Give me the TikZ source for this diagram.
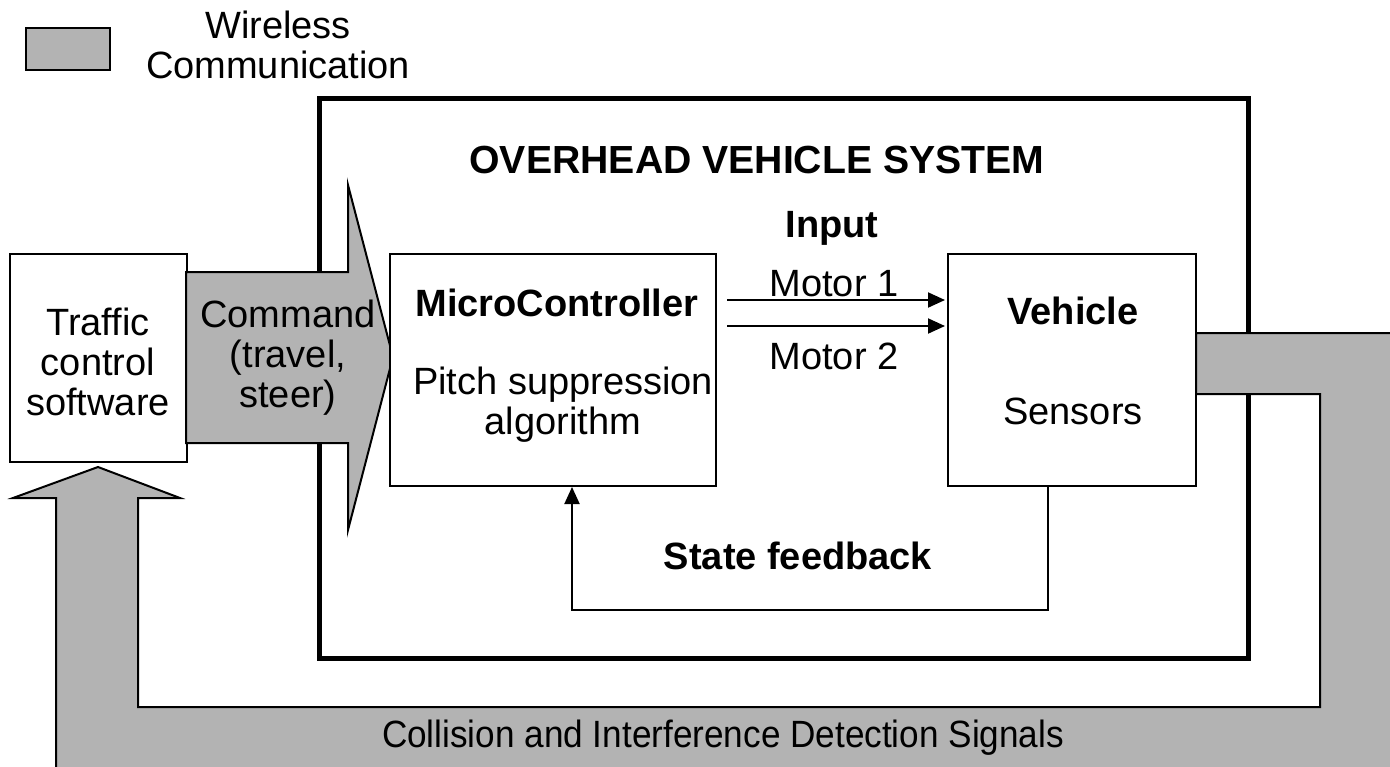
\documentclass[tikz,border=0pt]{standalone}
\usepackage{fontspec}
\setmainfont{Liberation Sans}
\newfontfamily\condensedsans[FakeStretch=0.925]{Liberation Sans}
\usetikzlibrary{arrows.meta,calc}
\definecolor{bandgray}{RGB}{179,179,179}
\begin{document}
\begin{tikzpicture}[x=0.5pt,y=-0.5pt,
  every node/.style={font=\fontsize{19}{20}\selectfont, inner sep=0pt, align=center},
  txt/.style={},
  hd/.style={font=\fontsize{19}{20}\selectfont\bfseries},
  box/.style={draw, line width=1pt, fill=white},
  frame/.style={draw, line width=2.5pt},
  wire/.style={line width=1pt},
  tip/.style={-{Triangle[length=8.5pt,width=7.5pt]}}
]
\useasboundingbox (0,0) rectangle (1390,766);

% legend
\node[draw, line width=1pt, fill=bandgray, minimum width=42pt, minimum height=21pt] (legend) at (68,49) {};
\node[txt] (legendtxt) at (278,45) {Wireless\\Communication};

% overhead vehicle system frame
\node[frame, minimum width=464.5pt, minimum height=280pt] (ovs) at (783.5,378) {};
\node[hd, font=\fontsize{19.6}{20}\selectfont\bfseries] (ovstitle) at (757,160) {OVERHEAD VEHICLE SYSTEM};

% collision / interference detection band (wireless)
\begin{scope}
  \clip (0,0) rectangle (1390,766);
  \draw[wire, fill=bandgray]
    (56,820) -- (56,498) -- (13,498) -- (98,467) -- (180,498) -- (138,498)
    -- (138,707) -- (1320,707) -- (1320,394) -- (1196,394) -- (1196,333)
    -- (1440,333) -- (1440,820) -- cycle;
\end{scope}
\node[txt, font=\fontsize{19}{20}\condensedsans] (cidtxt) at (723,738) {Collision and Interference Detection Signals};

% traffic control software
\node[box, minimum width=88.5pt, minimum height=104pt] (tcs) at (98.5,358) {};
\node[txt] (tcstxt) at (98,362) {Traffic\\control\\software};

% command arrow (wireless)
\draw[wire, fill=bandgray]
  (186,272) -- (348,272) -- (348,185) -- (393,357) -- (348,530)
  -- (348,443) -- (186,443) -- cycle;
\node[txt] (cmdtxt) at (288,358) {Command\\(travel,\\steer)};

% microcontroller
\node[box, minimum width=163pt, minimum height=116pt] (mc) at (553,370) {};
\node[hd] (mctitle) at (557,303) {MicroController};
\node[txt] (mctxt) at (563,405) {Pitch suppression\\algorithm};

% vehicle
\node[box, minimum width=124pt, minimum height=116pt] (veh) at (1072,370) {};
\node[hd] (vehtitle) at (1073,311) {Vehicle};
\node[txt] (vehtxt) at (1073,411) {Sensors};

% motor inputs
\node[hd] (input) at (832,228) {Input};
\node[txt] (m1) at (834,284) {Motor 1};
\node[txt] (m2) at (834,356) {Motor 2};
\draw[wire, tip] ($(mc.east)+(10,-70)$) -- ($(veh.west)+(-2,-70)$);
\draw[wire, tip] ($(mc.east)+(10,-44)$) -- ($(veh.west)+(-2,-44)$);

% state feedback loop
\draw[wire, tip] ($(veh.south west)+(101,0)$) -- ++(0,123) -| ($(mc.south west)+(183,0)$);
\node[hd] (fb) at (798,556) {State feedback};
\end{tikzpicture}
\end{document}
